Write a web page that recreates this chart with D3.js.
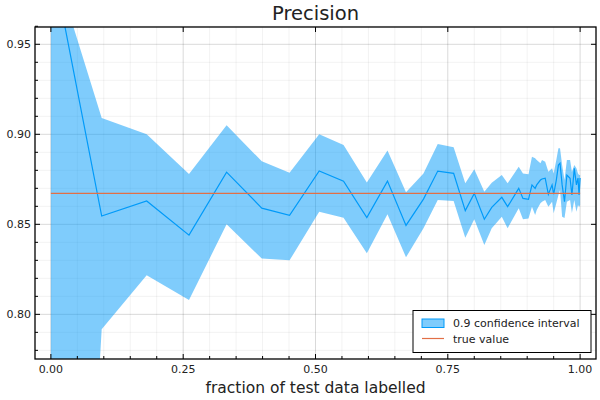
<!DOCTYPE html>
<html>
<head>
<meta charset="utf-8">
<script src="https://cdn.jsdelivr.net/npm/d3@7"></script>
<style>
    body { margin: 0; background: white; }
    text { font-family: "DejaVu Sans", sans-serif; fill: #222; }
</style>
</head>
<body>
<svg id="chart"></svg>
<script>
// fraction of the test data that has been labelled
const FRACTIONS = [0, 0.096, 0.181, 0.261, 0.332, 0.3985, 0.451, 0.507, 0.553, 0.597,
    0.636, 0.671, 0.704, 0.731, 0.761, 0.783, 0.800, 0.819, 0.833, 0.852,
    0.863, 0.884, 0.892, 0.9025, 0.909, 0.915, 0.918, 0.925, 0.928, 0.934,
    0.940, 0.947, 0.950, 0.955, 0.959, 0.962, 0.966, 0.9705, 0.975, 0.981,
    0.9845, 0.989, 0.993, 0.996, 0.998, 1.0];

// estimated precision
const ESTIMATE = [1.0, 0.8546, 0.863, 0.844, 0.879, 0.859, 0.855, 0.8796, 0.874, 0.8537,
    0.874, 0.8494, 0.864, 0.8796, 0.8783, 0.8576, 0.8672, 0.8528, 0.8594, 0.865,
    0.8598, 0.870, 0.8644, 0.8639, 0.8719, 0.8700, 0.8719, 0.8746, 0.8752, 0.8756,
    0.8667, 0.8719, 0.8667, 0.8746, 0.8829, 0.8839, 0.8719, 0.8626, 0.8774, 0.8756,
    0.8663, 0.8811, 0.8719, 0.8757, 0.8663, 0.8757];

// 0.9 confidence interval bounds
const UPPER = [1.0, 0.909, 0.900, 0.878, 0.905, 0.885, 0.8787, 0.900, 0.894, 0.8733,
    0.891, 0.8678, 0.8783, 0.8946, 0.8928, 0.8728, 0.8806, 0.8681, 0.8731, 0.8774,
    0.8728, 0.882, 0.8783, 0.8778, 0.8876, 0.8867, 0.8857, 0.8839, 0.8857, 0.8848,
    0.8792, 0.8811, 0.8783, 0.8857, 0.8922, 0.8922, 0.8829, 0.8746, 0.8857, 0.8857,
    0.8791, 0.8829, 0.8811, 0.8783, 0.8774, 0.8774];

const LOWER = [0.3, 0.7917, 0.8217, 0.808, 0.850, 0.831, 0.830, 0.857, 0.8537, 0.834,
    0.8556, 0.8317, 0.8478, 0.8635, 0.8629, 0.8426, 0.8528, 0.8385, 0.8478, 0.8542,
    0.8478, 0.8589, 0.8528, 0.8533, 0.8598, 0.8552, 0.8579, 0.8617, 0.8626, 0.8635,
    0.8598, 0.8626, 0.8561, 0.8617, 0.8663, 0.8691, 0.8542, 0.8535, 0.8626, 0.8635,
    0.8563, 0.8635, 0.8570, 0.8607, 0.8596, 0.8607];

const TRUE_VALUE = 0.8672;

const X_TICKS = [0, 0.25, 0.5, 0.75, 1.0];
const Y_TICKS = [0.80, 0.85, 0.90, 0.95];

const WIDTH = 600;
const HEIGHT = 400;
const LEFT = 35, RIGHT = 596, TOP = 27, BOTTOM = 359;
const BLUE = "#009af9";
const ORANGE = "#e26f46";

let xScale = d3.scaleLinear().domain([-0.03, 1.03]).range([LEFT, RIGHT]);
let yScale = d3.scaleLinear().domain([0.7752, 0.9596]).range([BOTTOM, TOP]);

let svg = d3.select("#chart")
    .attr("width", WIDTH)
    .attr("height", HEIGHT);

svg.append("defs").append("clipPath")
    .attr("id", "plotclip")
    .append("rect")
    .attr("x", LEFT).attr("y", TOP)
    .attr("width", RIGHT - LEFT).attr("height", BOTTOM - TOP);

// grid: minor then major
let xMinor = d3.range(0, 1.0001, 0.05);
let yMinor = d3.range(0.78, 0.9601, 0.01);

let grid = svg.append("g");
grid.selectAll(".gxm").data(xMinor).enter().append("line")
    .attr("x1", d => xScale(d)).attr("x2", d => xScale(d))
    .attr("y1", TOP).attr("y2", BOTTOM)
    .attr("stroke", "#000").attr("stroke-opacity", 0.05);
grid.selectAll(".gym").data(yMinor).enter().append("line")
    .attr("y1", d => yScale(d)).attr("y2", d => yScale(d))
    .attr("x1", LEFT).attr("x2", RIGHT)
    .attr("stroke", "#000").attr("stroke-opacity", 0.05);
grid.selectAll(".gx").data(X_TICKS).enter().append("line")
    .attr("x1", d => xScale(d)).attr("x2", d => xScale(d))
    .attr("y1", TOP).attr("y2", BOTTOM)
    .attr("stroke", "#000").attr("stroke-opacity", 0.1);
grid.selectAll(".gy").data(Y_TICKS).enter().append("line")
    .attr("y1", d => yScale(d)).attr("y2", d => yScale(d))
    .attr("x1", LEFT).attr("x2", RIGHT)
    .attr("stroke", "#000").attr("stroke-opacity", 0.1);

let plot = svg.append("g").attr("clip-path", "url(#plotclip)");

let band = d3.area()
    .x((d, i) => xScale(FRACTIONS[i]))
    .y0((d, i) => yScale(LOWER[i]))
    .y1((d, i) => yScale(UPPER[i]));

plot.append("path")
    .datum(FRACTIONS)
    .attr("d", band)
    .attr("fill", BLUE)
    .attr("fill-opacity", 0.5);

let line = d3.line()
    .x((d, i) => xScale(FRACTIONS[i]))
    .y((d, i) => yScale(ESTIMATE[i]));

plot.append("path")
    .datum(FRACTIONS)
    .attr("d", line)
    .attr("fill", "none")
    .attr("stroke", BLUE)
    .attr("stroke-width", 1.2);

plot.append("line")
    .attr("x1", xScale(0)).attr("x2", xScale(1))
    .attr("y1", yScale(TRUE_VALUE)).attr("y2", yScale(TRUE_VALUE))
    .attr("stroke", ORANGE)
    .attr("stroke-width", 1.2);

// frame
svg.append("rect")
    .attr("x", LEFT).attr("y", TOP)
    .attr("width", RIGHT - LEFT).attr("height", BOTTOM - TOP)
    .attr("fill", "none").attr("stroke", "#000").attr("stroke-width", 1.3);

// ticks, pointing inward
let xMinorOnly = xMinor.filter(d => X_TICKS.every(t => Math.abs(t - d) > 1e-6));
let yMinorOnly = yMinor.filter(d => Y_TICKS.every(t => Math.abs(t - d) > 1e-6));

let ticks = svg.append("g").attr("stroke", "#000").attr("stroke-width", 1);
ticks.selectAll(".tx").data(X_TICKS).enter().append("line")
    .attr("x1", d => xScale(d)).attr("x2", d => xScale(d))
    .attr("y1", BOTTOM).attr("y2", BOTTOM - 5);
ticks.selectAll(".txt").data(X_TICKS).enter().append("line")
    .attr("x1", d => xScale(d)).attr("x2", d => xScale(d))
    .attr("y1", TOP).attr("y2", TOP + 5);
ticks.selectAll(".txm").data(xMinorOnly).enter().append("line")
    .attr("x1", d => xScale(d)).attr("x2", d => xScale(d))
    .attr("y1", BOTTOM).attr("y2", BOTTOM - 3);
ticks.selectAll(".ty").data(Y_TICKS).enter().append("line")
    .attr("y1", d => yScale(d)).attr("y2", d => yScale(d))
    .attr("x1", LEFT).attr("x2", LEFT + 5);
ticks.selectAll(".tyr").data(Y_TICKS).enter().append("line")
    .attr("y1", d => yScale(d)).attr("y2", d => yScale(d))
    .attr("x1", RIGHT).attr("x2", RIGHT - 5);
ticks.selectAll(".tym").data(yMinorOnly).enter().append("line")
    .attr("y1", d => yScale(d)).attr("y2", d => yScale(d))
    .attr("x1", LEFT).attr("x2", LEFT + 3);

// tick labels
svg.selectAll(".xl").data(X_TICKS).enter().append("text")
    .attr("x", d => xScale(d))
    .attr("y", BOTTOM + 14)
    .attr("text-anchor", "middle")
    .attr("font-size", "11px")
    .text(d => d3.format(".2f")(d));

svg.selectAll(".yl").data(Y_TICKS).enter().append("text")
    .attr("x", LEFT - 4)
    .attr("y", d => yScale(d) + 4)
    .attr("text-anchor", "end")
    .attr("font-size", "11px")
    .text(d => d3.format(".2f")(d));

// titles
svg.append("text")
    .attr("x", (LEFT + RIGHT) / 2)
    .attr("y", 20)
    .attr("text-anchor", "middle")
    .attr("font-size", "19.5px")
    .text("Precision");

svg.append("text")
    .attr("x", (LEFT + RIGHT) / 2)
    .attr("y", 393)
    .attr("text-anchor", "middle")
    .attr("font-size", "15.5px")
    .text("fraction of test data labelled");

// legend
let legend = svg.append("g");
legend.append("rect")
    .attr("x", 413).attr("y", 310.5)
    .attr("width", 178).attr("height", 42)
    .attr("fill", "white").attr("stroke", "#000").attr("stroke-width", 1);
legend.append("rect")
    .attr("x", 422).attr("y", 319)
    .attr("width", 22).attr("height", 8.5)
    .attr("fill", BLUE).attr("fill-opacity", 0.5)
    .attr("stroke", BLUE).attr("stroke-width", 1);
legend.append("text")
    .attr("x", 453).attr("y", 327)
    .attr("font-size", "11px")
    .text("0.9 confidence interval");
legend.append("line")
    .attr("x1", 422).attr("x2", 444)
    .attr("y1", 338.5).attr("y2", 338.5)
    .attr("stroke", ORANGE).attr("stroke-width", 1.2);
legend.append("text")
    .attr("x", 453).attr("y", 342.5)
    .attr("font-size", "11px")
    .text("true value");
</script>
</body>
</html>
